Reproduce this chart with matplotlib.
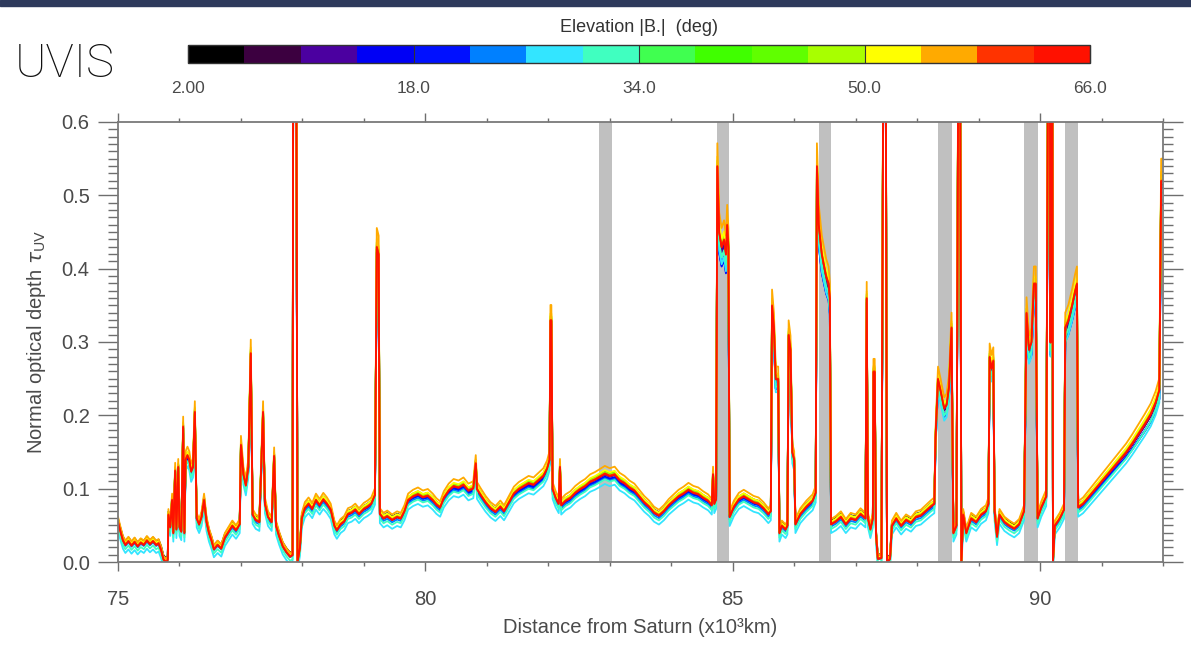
import numpy as np
import matplotlib
matplotlib.use("Agg")
import matplotlib.pyplot as plt
from matplotlib.colors import ListedColormap, BoundaryNorm
from matplotlib.cm import ScalarMappable
from matplotlib.patches import Rectangle
from matplotlib.ticker import MultipleLocator

plt.rcParams['font.family'] = ['Liberation Sans', 'DejaVu Sans']

# radial profile (x10^3 km, normal optical depth)
x_km = [
    75.00, 75.04, 75.08, 75.12, 75.17, 75.22, 75.27, 75.32, 75.37, 75.42,
    75.47, 75.52, 75.57, 75.62, 75.66, 75.70, 75.74, 75.79, 75.81, 75.82,
    75.85, 75.88, 75.90, 75.93, 75.95, 75.98, 76.00, 76.03, 76.06, 76.08,
    76.10, 76.13, 76.16, 76.19, 76.22, 76.25, 76.28, 76.32, 76.36, 76.40,
    76.44, 76.48, 76.52, 76.56, 76.62, 76.68, 76.74, 76.80, 76.86, 76.92,
    76.98, 77.00, 77.04, 77.08, 77.12, 77.16, 77.19, 77.24, 77.30, 77.36,
    77.39, 77.44, 77.50, 77.54, 77.57, 77.62, 77.68, 77.74, 77.80, 77.84,
    77.85, 77.90, 77.92, 77.96, 77.99, 78.04, 78.10, 78.16, 78.22, 78.28,
    78.34, 78.40, 78.46, 78.52, 78.56, 78.62, 78.68, 78.74, 78.80, 78.86,
    78.92, 79.00, 79.06, 79.12, 79.18, 79.21, 79.24, 79.26, 79.32, 79.38,
    79.46, 79.54, 79.60, 79.66, 79.72, 79.80, 79.88, 79.96, 80.04, 80.12,
    80.18, 80.24, 80.30, 80.38, 80.46, 80.54, 80.62, 80.70, 80.78, 80.82,
    80.84, 80.90, 80.98, 81.06, 81.14, 81.22, 81.28, 81.36, 81.44, 81.52,
    81.60, 81.68, 81.76, 81.84, 81.92, 81.98, 82.02, 82.035, 82.05, 82.07,
    82.12, 82.17, 82.19, 82.21, 82.28, 82.36, 82.44, 82.52, 82.60, 82.68,
    82.76, 82.84, 82.92, 83.00, 83.08, 83.16, 83.24, 83.32, 83.40, 83.48,
    83.56, 83.64, 83.72, 83.80, 83.88, 83.96, 84.04, 84.12, 84.20, 84.28,
    84.36, 84.44, 84.52, 84.60, 84.66, 84.68, 84.70, 84.73, 84.75, 84.78,
    84.82, 84.86, 84.89, 84.91, 84.93, 84.95, 85.02, 85.10, 85.18, 85.26,
    85.34, 85.42, 85.50, 85.58, 85.62, 85.64, 85.67, 85.70, 85.74, 85.76,
    85.80, 85.86, 85.89, 85.91, 85.94, 85.97, 86.00, 86.02, 86.10, 86.20,
    86.30, 86.35, 86.37, 86.40, 86.45, 86.52, 86.56, 86.58, 86.60, 86.68,
    86.76, 86.84, 86.92, 87.00, 87.08, 87.16, 87.18, 87.20, 87.24, 87.28,
    87.29, 87.31, 87.33, 87.36, 87.42, 87.45, 87.49, 87.51, 87.56, 87.59,
    87.66, 87.74, 87.82, 87.90, 87.98, 88.06, 88.14, 88.22, 88.28, 88.30,
    88.34, 88.38, 88.44, 88.48, 88.52, 88.56, 88.59, 88.64, 88.67, 88.70,
    88.72, 88.75, 88.80, 88.88, 88.96, 89.04, 89.12, 89.16, 89.18, 89.21,
    89.24, 89.26, 89.30, 89.34, 89.42, 89.50, 89.58, 89.66, 89.74, 89.78,
    89.82, 89.86, 89.90, 89.93, 89.96, 90.02, 90.10, 90.13, 90.16, 90.17,
    90.18, 90.20, 90.21, 90.24, 90.32, 90.39, 90.41, 90.46, 90.52, 90.57,
    90.60, 90.62, 90.70, 90.80, 90.90, 91.00, 91.10, 91.20, 91.30, 91.40,
    91.50, 91.60, 91.70, 91.80, 91.88, 91.94, 91.97, 92.00,
]
tau_ref = [
    0.055, 0.042, 0.030, 0.024, 0.029, 0.023, 0.028, 0.022, 0.027, 0.024,
    0.030, 0.025, 0.029, 0.024, 0.026, 0.017, 0.004, 0.000, 0.004, 0.065,
    0.048, 0.085, 0.040, 0.125, 0.045, 0.130, 0.048, 0.042, 0.185, 0.040,
    0.140, 0.146, 0.140, 0.124, 0.130, 0.205, 0.060, 0.052, 0.062, 0.085,
    0.055, 0.040, 0.030, 0.018, 0.024, 0.019, 0.034, 0.042, 0.050, 0.044,
    0.052, 0.160, 0.120, 0.105, 0.130, 0.285, 0.065, 0.058, 0.055, 0.205,
    0.080, 0.062, 0.055, 0.145, 0.050, 0.036, 0.022, 0.014, 0.008, 0.010,
    0.700, 0.700, 0.000, 0.020, 0.060, 0.074, 0.080, 0.073, 0.085, 0.078,
    0.086, 0.080, 0.072, 0.050, 0.044, 0.052, 0.056, 0.066, 0.068, 0.072,
    0.066, 0.073, 0.076, 0.080, 0.092, 0.430, 0.420, 0.066, 0.060, 0.063,
    0.058, 0.062, 0.060, 0.070, 0.085, 0.090, 0.093, 0.089, 0.091, 0.085,
    0.079, 0.075, 0.088, 0.098, 0.104, 0.102, 0.106, 0.098, 0.101, 0.135,
    0.100, 0.092, 0.082, 0.074, 0.069, 0.076, 0.070, 0.082, 0.094, 0.100,
    0.104, 0.108, 0.106, 0.112, 0.118, 0.128, 0.140, 0.330, 0.330, 0.100,
    0.088, 0.080, 0.130, 0.078, 0.084, 0.088, 0.095, 0.100, 0.104, 0.110,
    0.113, 0.117, 0.121, 0.118, 0.120, 0.112, 0.108, 0.102, 0.098, 0.090,
    0.082, 0.076, 0.068, 0.064, 0.070, 0.078, 0.084, 0.090, 0.094, 0.099,
    0.095, 0.093, 0.088, 0.084, 0.078, 0.120, 0.080, 0.086, 0.540, 0.450,
    0.430, 0.440, 0.420, 0.460, 0.430, 0.062, 0.076, 0.086, 0.090, 0.086,
    0.082, 0.080, 0.074, 0.066, 0.070, 0.350, 0.320, 0.250, 0.250, 0.040,
    0.050, 0.045, 0.050, 0.310, 0.290, 0.150, 0.140, 0.052, 0.066, 0.076,
    0.084, 0.095, 0.540, 0.460, 0.420, 0.390, 0.380, 0.360, 0.052, 0.056,
    0.062, 0.052, 0.060, 0.058, 0.066, 0.060, 0.360, 0.060, 0.045, 0.060,
    0.260, 0.260, 0.040, 0.005, 0.006, 0.700, 0.700, 0.000, 0.005, 0.050,
    0.060, 0.050, 0.058, 0.054, 0.062, 0.064, 0.070, 0.076, 0.080, 0.170,
    0.250, 0.235, 0.210, 0.215, 0.240, 0.320, 0.040, 0.050, 0.700, 0.700,
    0.000, 0.065, 0.040, 0.060, 0.055, 0.065, 0.070, 0.080, 0.280, 0.265,
    0.275, 0.070, 0.035, 0.065, 0.055, 0.050, 0.046, 0.052, 0.070, 0.340,
    0.290, 0.300, 0.380, 0.380, 0.060, 0.075, 0.090, 0.700, 0.700, 0.300,
    0.700, 0.700, 0.000, 0.050, 0.060, 0.072, 0.320, 0.330, 0.350, 0.370,
    0.380, 0.075, 0.080, 0.090, 0.100, 0.110, 0.120, 0.130, 0.140, 0.150,
    0.162, 0.175, 0.188, 0.202, 0.218, 0.235, 0.520, 0.520,
]

# elevation bins (deg) and their colours from the colour bar
elev_edges = [2, 6, 10, 14, 18, 22, 26, 30, 34, 38, 42, 46, 50, 54, 58, 62, 66]
elev_colors = ['#000000', '#3c0040', '#4b00a0', '#0000f5', '#0010ff', '#0080ff',
               '#33e5ff', '#40ffc0', '#40ff50', '#40ff00', '#60ff00', '#a8ff00',
               '#ffff00', '#ffaa00', '#ff3300', '#ff1100']
# how each elevation sits against the reference profile
elev_gain = [0.98, 0.98, 0.98, 0.93, 0.93, 0.95, 0.97, 0.98,
             1.00, 1.01, 1.00, 1.01, 1.02, 1.05, 1.00, 1.00]
elev_shift = [0.005, 0.001, 0.001, 0.004, 0.003, -0.001, -0.011, -0.006,
              0.002, 0.002, 0.001, 0.000, 0.002, 0.004, 0.000, -0.001]

# data gaps (grey bands)
gap_lo = [82.83, 84.74, 86.40, 88.34, 89.74, 90.41]
gap_hi = [83.03, 84.94, 86.60, 88.57, 89.97, 90.62]

W, H = 1191, 654
fig = plt.figure(figsize=(W / 100, H / 100), dpi=100)
fig.patches.append(Rectangle((0, 1 - 6 / H), 1, 6 / H, transform=fig.transFigure,
                             color='#2e3a5c', zorder=0))

ax = fig.add_axes([118 / W, 1 - 562 / H, (1163 - 118) / W, (562 - 122) / H])
for lo, hi in zip(gap_lo, gap_hi):
    ax.axvspan(lo, hi, color='#c0c0c0', lw=0, zorder=1)

x = np.array(x_km)
t = np.array(tau_ref)
for c, g, s in zip(elev_colors, elev_gain, elev_shift):
    ax.plot(x, t * g + s, color=c, lw=1.3, zorder=2)

ax.set_xlim(75, 92)
ax.set_ylim(0, 0.6)
ax.xaxis.set_major_locator(MultipleLocator(5))
ax.xaxis.set_minor_locator(MultipleLocator(1))
ax.yaxis.set_major_locator(MultipleLocator(0.1))
ax.yaxis.set_minor_locator(MultipleLocator(0.01))
ax.tick_params(which='both', direction='out', top=True, right=True,
               color='#6e6e6e', width=1.0, labelsize=14.5, labelcolor='#4a4a4a')
ax.tick_params(axis='x', which='major', length=6.5, pad=14)
ax.tick_params(axis='x', which='minor', length=3.2)
ax.tick_params(axis='y', which='major', length=14.4, pad=6)
ax.tick_params(axis='y', which='minor', length=7.2)
for sp in ax.spines.values():
    sp.set_color('#7a7a7a')
    sp.set_linewidth(1.3)

ax.set_xlabel('Distance from Saturn (x10³km)', fontsize=14.5, color='#4a4a4a', labelpad=6)
ax.set_ylabel(r'Normal optical depth $\tau_{\rm UV}$', fontsize=14.5, color='#4a4a4a',
              labelpad=10)

# colour bar on top
cax = fig.add_axes([188 / W, 1 - 63 / H, (1090 - 188) / W, 18 / H])
cmap = ListedColormap(elev_colors)
norm = BoundaryNorm(elev_edges, cmap.N)
cb = fig.colorbar(ScalarMappable(norm=norm, cmap=cmap), cax=cax,
                  orientation='horizontal', ticks=[2, 18, 34, 50, 66])
cb.ax.set_xticklabels(['2.00', '18.0', '34.0', '50.0', '66.0'])
cb.ax.tick_params(direction='in', length=13, width=0.8, color='#333333',
                  labelsize=12.5, labelcolor='#4a4a4a', pad=13)
cb.ax.minorticks_off()
cb.outline.set_linewidth(1.0)
cb.outline.set_edgecolor('#333333')
fig.text(639 / W, 1 - 27 / H, 'Elevation |B.|  (deg)', ha='center', va='center',
         fontsize=13, color='#333333')

fig.text(15 / W, 1 - 77 / H, 'UVIS', fontsize=34, family=['Roboto', 'DejaVu Sans'],
         fontweight='light', ha='left', va='baseline', color='#111111')

fig.savefig('out.png', dpi=100)
